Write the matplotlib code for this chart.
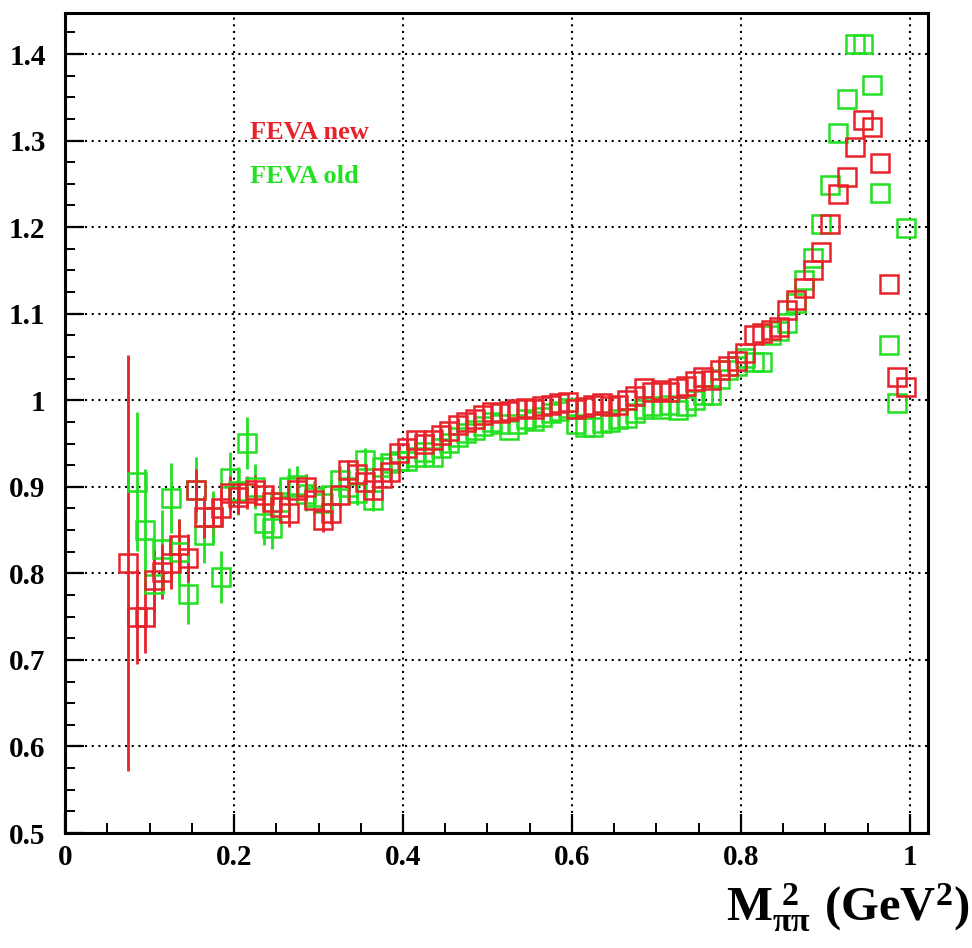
import matplotlib
matplotlib.use("Agg")
import matplotlib.pyplot as plt
from matplotlib.ticker import FixedLocator, FixedFormatter, MultipleLocator

plt.rcParams['font.family'] = ['Liberation Serif', 'DejaVu Serif']
plt.rcParams['font.weight'] = 'bold'
plt.rcParams['mathtext.fontset'] = 'custom'
plt.rcParams['mathtext.rm'] = 'Liberation Serif:bold'
plt.rcParams['mathtext.it'] = 'Liberation Serif:bold'
plt.rcParams['mathtext.bf'] = 'Liberation Serif:bold'

# ---------------- data ----------------
x_new = [0.075, 0.085, 0.095, 0.105, 0.115, 0.125, 0.135, 0.145, 0.155, 0.165,
         0.175, 0.185, 0.195, 0.205, 0.215, 0.225, 0.235, 0.245, 0.255, 0.265,
         0.275, 0.285, 0.295, 0.305, 0.315, 0.325, 0.335, 0.345, 0.355, 0.365,
         0.375, 0.385, 0.395, 0.405, 0.415, 0.425, 0.435, 0.445, 0.455, 0.465,
         0.475, 0.485, 0.495, 0.505, 0.515, 0.525, 0.535, 0.545, 0.555, 0.565,
         0.575, 0.585, 0.595, 0.605, 0.615, 0.625, 0.635, 0.645, 0.655, 0.665,
         0.675, 0.685, 0.695, 0.705, 0.715, 0.725, 0.735, 0.745, 0.755, 0.765,
         0.775, 0.785, 0.795, 0.805, 0.815, 0.825, 0.835, 0.845, 0.855, 0.865,
         0.875, 0.885, 0.895, 0.905, 0.915, 0.925, 0.935, 0.945, 0.955, 0.965,
         0.975, 0.985, 0.995]
y_new = [0.812, 0.750, 0.750, 0.792, 0.802, 0.812, 0.833, 0.818, 0.896, 0.865,
         0.865, 0.875, 0.893, 0.888, 0.893, 0.896, 0.890, 0.882, 0.877, 0.870,
         0.896, 0.900, 0.885, 0.862, 0.870, 0.890, 0.919, 0.915, 0.905, 0.896,
         0.910, 0.917, 0.939, 0.945, 0.954, 0.950, 0.954, 0.960, 0.965, 0.971,
         0.975, 0.978, 0.983, 0.986, 0.985, 0.988, 0.990, 0.991, 0.990, 0.993,
         0.995, 0.997, 0.998, 0.990, 0.992, 0.994, 0.997, 0.993, 0.995, 1.000,
         1.005, 1.014, 1.010, 1.012, 1.010, 1.014, 1.016, 1.022, 1.027, 1.023,
         1.035, 1.040, 1.045, 1.054, 1.075, 1.078, 1.081, 1.085, 1.104, 1.116,
         1.130, 1.150, 1.171, 1.204, 1.238, 1.258, 1.293, 1.324, 1.316, 1.274,
         1.134, 1.027, 1.015]
e_new = [0.240, 0.055, 0.042, 0.035, 0.032, 0.030, 0.030, 0.028, 0.025, 0.024,
         0.022, 0.022, 0.020, 0.020, 0.019, 0.018, 0.018, 0.017, 0.016, 0.016,
         0.015, 0.015, 0.014, 0.014, 0.013, 0.013, 0.012, 0.012, 0.011, 0.011,
         0.010, 0.010, 0.010, 0.009, 0.009, 0.009, 0.008, 0.008, 0.008, 0.008,
         0.0, 0.0, 0.0, 0.0, 0.0, 0.0, 0.0, 0.0, 0.0, 0.0,
         0.0, 0.0, 0.0, 0.0, 0.0, 0.0, 0.0, 0.0, 0.0, 0.0,
         0.0, 0.0, 0.0, 0.0, 0.0, 0.0, 0.0, 0.0, 0.0, 0.0,
         0.0, 0.0, 0.0, 0.0, 0.0, 0.0, 0.0, 0.0, 0.0, 0.0,
         0.0, 0.0, 0.0, 0.0, 0.0, 0.0, 0.0, 0.0, 0.0, 0.0,
         0.0, 0.0, 0.0]

x_old = [0.085, 0.095, 0.105, 0.115, 0.125, 0.135, 0.145, 0.155, 0.165,
         0.175, 0.185, 0.195, 0.205, 0.215, 0.225, 0.235, 0.245, 0.255, 0.265,
         0.275, 0.285, 0.295, 0.305, 0.315, 0.325, 0.335, 0.345, 0.355, 0.365,
         0.375, 0.385, 0.395, 0.405, 0.415, 0.425, 0.435, 0.445, 0.455, 0.465,
         0.475, 0.485, 0.495, 0.505, 0.515, 0.525, 0.535, 0.545, 0.555, 0.565,
         0.575, 0.585, 0.595, 0.605, 0.615, 0.625, 0.635, 0.645, 0.655, 0.665,
         0.675, 0.685, 0.695, 0.705, 0.715, 0.725, 0.735, 0.745, 0.755, 0.765,
         0.775, 0.785, 0.795, 0.805, 0.815, 0.825, 0.835, 0.845, 0.855, 0.865,
         0.875, 0.885, 0.895, 0.905, 0.915, 0.925, 0.935, 0.945, 0.955, 0.965,
         0.975, 0.985, 0.995]
y_old = [0.906, 0.850, 0.788, 0.828, 0.887, 0.825, 0.776, 0.896, 0.844,
         0.865, 0.796, 0.910, 0.895, 0.951, 0.900, 0.858, 0.852, 0.883, 0.900,
         0.902, 0.892, 0.888, 0.881, 0.891, 0.908, 0.900, 0.893, 0.931, 0.885,
         0.923, 0.927, 0.930, 0.930, 0.934, 0.940, 0.934, 0.945, 0.951, 0.958,
         0.962, 0.966, 0.970, 0.975, 0.972, 0.966, 0.972, 0.978, 0.976, 0.981,
         0.985, 0.988, 0.991, 0.972, 0.969, 0.969, 0.974, 0.975, 0.978, 0.980,
         0.985, 0.990, 0.993, 0.990, 0.995, 0.989, 0.993, 1.000, 1.006, 1.006,
         1.025, 1.035, 1.040, 1.049, 1.044, 1.044, 1.075, 1.080, 1.089, 1.112,
         1.139, 1.164, 1.204, 1.249, 1.309, 1.348, 1.411, 1.412, 1.364, 1.240,
         1.064, 0.997, 1.199]
e_old = [0.080, 0.070, 0.050, 0.045, 0.040, 0.038, 0.035, 0.038, 0.032,
         0.030, 0.030, 0.030, 0.028, 0.030, 0.026, 0.025, 0.024, 0.024, 0.022,
         0.022, 0.020, 0.019, 0.018, 0.017, 0.016, 0.015, 0.014, 0.014, 0.013,
         0.012, 0.012, 0.011, 0.011, 0.010, 0.010, 0.009, 0.009, 0.009, 0.008,
         0.0, 0.0, 0.0, 0.0, 0.0, 0.0, 0.0, 0.0, 0.0, 0.0,
         0.0, 0.0, 0.0, 0.0, 0.0, 0.0, 0.0, 0.0, 0.0, 0.0,
         0.0, 0.0, 0.0, 0.0, 0.0, 0.0, 0.0, 0.0, 0.0, 0.0,
         0.0, 0.0, 0.0, 0.0, 0.0, 0.0, 0.0, 0.0, 0.0, 0.0,
         0.0, 0.0, 0.0, 0.0, 0.0, 0.0, 0.0, 0.0, 0.0, 0.0,
         0.0, 0.0, 0.0]

xticks = [0, 0.2, 0.4, 0.6, 0.8, 1.0]
xtick_labels = ['0', '0.2', '0.4', '0.6', '0.8', '1']
yticks = [0.5, 0.6, 0.7, 0.8, 0.9, 1.0, 1.1, 1.2, 1.3, 1.4]
ytick_labels = ['0.5', '0.6', '0.7', '0.8', '0.9', '1', '1.1', '1.2', '1.3', '1.4']
series_labels = ['FEVA new', 'FEVA old']

RED = '#e8222a'
GREEN = '#22e022'

# ---------------- figure ----------------
fig = plt.figure(figsize=(9.72, 9.48), dpi=100)
ax = fig.add_axes([0.0669, 0.1213, 0.8878, 0.865])

ax.set_xlim(0, 1.0213)
ax.set_ylim(0.5, 1.4474)

for xs, ys, es, col in [(x_old, y_old, e_old, GREEN), (x_new, y_new, e_new, RED)]:
    ax.errorbar(xs, ys, yerr=es, fmt='none', ecolor=col, elinewidth=2.0, capsize=0, zorder=3)
    ax.plot(xs, ys, linestyle='none', marker='s', markersize=13, markerfacecolor='none',
            markeredgecolor=col, markeredgewidth=1.8, zorder=4)

ax.xaxis.set_major_locator(FixedLocator(xticks))
ax.xaxis.set_major_formatter(FixedFormatter(xtick_labels))
ax.yaxis.set_major_locator(FixedLocator(yticks))
ax.yaxis.set_major_formatter(FixedFormatter(ytick_labels))
ax.xaxis.set_minor_locator(MultipleLocator(0.05))
ax.yaxis.set_minor_locator(MultipleLocator(0.025))

ax.tick_params(axis='both', which='major', direction='in', length=14, width=1.6,
               labelsize=21, top=False, right=False)
ax.tick_params(axis='both', which='minor', direction='in', length=7, width=1.4,
               top=False, right=False)
ax.tick_params(axis='x', which='major', pad=8)
ax.tick_params(axis='y', which='major', pad=14)
for lab in ax.get_xticklabels() + ax.get_yticklabels():
    lab.set_fontweight('bold')

ax.grid(True, which='major', color='black', linestyle=(0, (1, 2.2)), linewidth=1.5, zorder=1)
ax.set_axisbelow(True)
for sp in ax.spines.values():
    sp.set_linewidth(2.2)

ax.text(0.219, 1.309, series_labels[0], color=RED, fontsize=19, fontweight='bold',
        va='center', ha='left')
ax.text(0.219, 1.258, series_labels[1], color=GREEN, fontsize=19, fontweight='bold',
        va='center', ha='left')

fig.text(0.997, 0.043, r'$\mathrm{M_{\pi\pi}^{\ 2}\ (GeV^2)}$', fontsize=35,
         ha='right', va='center')

fig.savefig('out.png', dpi=100)
